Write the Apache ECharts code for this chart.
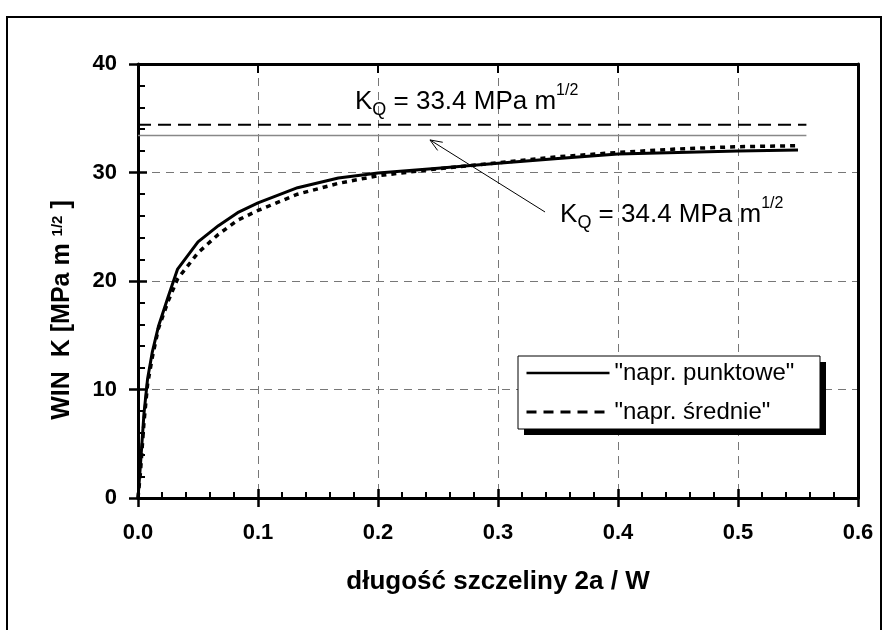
<!DOCTYPE html>
<html>
<head>
<meta charset="utf-8">
<script src="https://cdn.jsdelivr.net/npm/echarts@6/dist/echarts.min.js"></script>
<style>
  html, body { margin: 0; padding: 0; background: #fff; }
  #chart { width: 895px; height: 630px; }
</style>
</head>
<body>
<div id="chart"></div>
<script>
// ---- data ----
const crackLength = [0, 0.002, 0.005, 0.008, 0.012, 0.017, 0.025, 0.033, 0.05, 0.067, 0.083, 0.1, 0.133, 0.167, 0.2, 0.25, 0.3, 0.35, 0.4, 0.45, 0.5, 0.55];
const kPointStress = [0, 3.0, 7.8, 11.0, 13.5, 15.8, 18.5, 21.1, 23.6, 25.1, 26.3, 27.2, 28.6, 29.5, 29.95, 30.4, 30.85, 31.3, 31.7, 31.85, 31.98, 32.07];
const kMeanStress = [0, 2.3, 7.0, 10.5, 13.0, 15.6, 18.1, 20.2, 22.6, 24.3, 25.6, 26.5, 28.0, 29.0, 29.7, 30.35, 30.9, 31.45, 31.85, 32.17, 32.38, 32.47];
const seriesNames = ['"napr. punktowe"', '"napr. średnie"'];
const kqLineX = [0, 0.557];
const kqHigh = 34.4;
const kqLow = 33.4;
const xTicks = [0, 0.1, 0.2, 0.3, 0.4, 0.5, 0.6];
const yTicks = [0, 10, 20, 30, 40];
const xTitle = 'długość szczeliny 2a / W';
// annotation anchors (data coordinates)
const note1Pos = [0.1808, 36.5];
const note2Pos = [0.3517, 26.1];
const arrowFrom = [0.3392, 26.36];
const arrowTo = [0.2433, 33.0];

const FONT = 'Liberation Sans, Arial, sans-serif';
const chart = echarts.init(document.getElementById('chart'), null, { renderer: 'canvas' });

const gridRect = { left: 138, right: 37, top: 64, bottom: 132 };
const xBase = { type: 'value', min: xTicks[0], max: xTicks[xTicks.length - 1], interval: 0.1 };
const yBase = { type: 'value', min: yTicks[0], max: yTicks[yTicks.length - 1], interval: 10 };
const gridLine = { show: true, lineStyle: { color: '#777', type: [8, 6], width: 1 } };

const option = {
  animation: false,
  backgroundColor: '#fff',
  grid: [Object.assign({}, gridRect), Object.assign({}, gridRect)],
  xAxis: [
    Object.assign({}, xBase, {
      gridIndex: 0, position: 'bottom',
      axisLine: { show: true, onZero: false, lineStyle: { color: '#000', width: 3 } },
      axisTick: { show: true, inside: false, length: 9, lineStyle: { color: '#000', width: 2.5 } },
      splitLine: gridLine,
      axisLabel: { color: '#000', fontFamily: FONT, fontSize: 22, fontWeight: 'bold', margin: 24,
        formatter: v => v.toFixed(1) },
      name: xTitle, nameLocation: 'middle', nameGap: 71,
      nameTextStyle: { color: '#000', fontFamily: FONT, fontSize: 26, fontWeight: 'bold' }
    }),
    Object.assign({}, xBase, {
      gridIndex: 1, position: 'bottom',
      axisLine: { show: false, onZero: false },
      axisTick: { show: true, inside: true, length: 9, lineStyle: { color: '#000', width: 2.5 } },
      minorTick: { show: true, splitNumber: 5, length: 6, lineStyle: { color: '#000', width: 2 } },
      splitLine: { show: false }, axisLabel: { show: false }
    }),
    Object.assign({}, xBase, {
      gridIndex: 1, position: 'top',
      axisLine: { show: true, onZero: false, lineStyle: { color: '#000', width: 3 } },
      axisTick: { show: true, inside: true, length: 9, lineStyle: { color: '#000', width: 2 } },
      splitLine: { show: false }, axisLabel: { show: false }
    })
  ],
  yAxis: [
    Object.assign({}, yBase, {
      gridIndex: 0, position: 'left',
      axisLine: { show: true, onZero: false, lineStyle: { color: '#000', width: 3 } },
      axisTick: { show: true, inside: false, length: 9, lineStyle: { color: '#000', width: 2.5 } },
      splitLine: gridLine,
      axisLabel: { color: '#000', fontFamily: FONT, fontSize: 22, fontWeight: 'bold', margin: 21 }
    }),
    Object.assign({}, yBase, {
      gridIndex: 1, position: 'left',
      axisLine: { show: false, onZero: false },
      axisTick: { show: true, inside: true, length: 9, lineStyle: { color: '#000', width: 2.5 } },
      minorTick: { show: true, splitNumber: 5, length: 7, lineStyle: { color: '#000', width: 2 } },
      splitLine: { show: false }, axisLabel: { show: false }
    }),
    Object.assign({}, yBase, {
      gridIndex: 1, position: 'right',
      axisLine: { show: true, onZero: false, lineStyle: { color: '#000', width: 3 } },
      axisTick: { show: false }, splitLine: { show: false }, axisLabel: { show: false }
    })
  ],
  legend: {
    orient: 'vertical', left: 525, top: 359, padding: 0, z: 20,
    itemWidth: 83, itemHeight: 14, itemGap: 11,
    itemStyle: { opacity: 0 },
    textStyle: { color: '#000', fontFamily: FONT, fontSize: 24, lineHeight: 28 },
    data: [
      { name: seriesNames[0], itemStyle: { opacity: 0 }, lineStyle: { width: 2.5 } },
      { name: seriesNames[1], itemStyle: { opacity: 0 }, lineStyle: { type: [10, 7], width: 3 } }
    ]
  },
  series: [
    {
      name: seriesNames[0], type: 'line', xAxisIndex: 0, yAxisIndex: 0,
      symbol: 'none', z: 6,
      data: crackLength.map((x, i) => [x, kPointStress[i]]),
      lineStyle: { color: '#000', width: 3 }, itemStyle: { color: '#000' }
    },
    {
      name: seriesNames[1], type: 'line', xAxisIndex: 0, yAxisIndex: 0,
      symbol: 'none', z: 5,
      data: crackLength.map((x, i) => [x, kMeanStress[i]]),
      lineStyle: { color: '#000', width: 3.5, type: [5, 5] }, itemStyle: { color: '#000' }
    },
    {
      name: 'KQ high', type: 'line', xAxisIndex: 0, yAxisIndex: 0, symbol: 'none', z: 4,
      data: kqLineX.map(x => [x, kqHigh]),
      lineStyle: { color: '#000', width: 2, type: [13, 7] }
    },
    {
      name: 'KQ low', type: 'line', xAxisIndex: 0, yAxisIndex: 0, symbol: 'none', z: 4,
      data: kqLineX.map(x => [x, kqLow]),
      lineStyle: { color: '#888', width: 1.5 }
    }
  ]
};
chart.setOption(option);

// ---- annotations (positioned through the chart's own scales) ----
const toPx = p => chart.convertToPixel({ gridIndex: 0 }, p);
const p1 = toPx(note1Pos), p2 = toPx(note2Pos);
const a0 = toPx(arrowFrom), a1 = toPx(arrowTo);
const ang = Math.atan2(a0[1] - a1[1], a0[0] - a1[0]);
const headLen = 13, headAng = 0.38;
const h1 = [a1[0] + headLen * Math.cos(ang + headAng), a1[1] + headLen * Math.sin(ang + headAng)];
const h2 = [a1[0] + headLen * Math.cos(ang - headAng), a1[1] + headLen * Math.sin(ang - headAng)];

const kqRich = {
  a: { fontFamily: FONT, fontSize: 26, color: '#000' },
  s: { fontFamily: FONT, fontSize: 18, color: '#000', padding: [16, 0, 0, 0] },
  p: { fontFamily: FONT, fontSize: 16, color: '#000', padding: [0, 0, 22, 0] }
};

chart.setOption({
  graphic: [
    { type: 'rect', z: 1, silent: true,
      shape: { x: 7, y: 17, width: 874, height: 700 },
      style: { fill: 'none', stroke: '#000', lineWidth: 2 } },
    { type: 'rect', z: 10, silent: true,
      shape: { x: 524, y: 362, width: 302, height: 73 },
      style: { fill: '#000' } },
    { type: 'rect', z: 11, silent: true,
      shape: { x: 518, y: 356, width: 302, height: 73 },
      style: { fill: '#fff', stroke: '#000', lineWidth: 1 } },
    { type: 'text', z: 30, silent: true, x: p1[0], y: p1[1],
      style: { text: '{a|K}{s|Q}{a| = 33.4 MPa m}{p|1/2}', rich: kqRich,
        textAlign: 'left', textVerticalAlign: 'middle' } },
    { type: 'text', z: 30, silent: true, x: p2[0], y: p2[1],
      style: { text: '{a|K}{s|Q}{a| = 34.4 MPa m}{p|1/2}', rich: kqRich,
        textAlign: 'left', textVerticalAlign: 'middle' } },
    { type: 'polyline', z: 30, silent: true,
      shape: { points: [a0, a1] }, style: { stroke: '#000', lineWidth: 1, fill: null } },
    { type: 'polyline', z: 30, silent: true,
      shape: { points: [h1, a1, h2] }, style: { stroke: '#000', lineWidth: 1, fill: null } },
    { type: 'text', z: 30, silent: true, x: 62, y: 310, rotation: Math.PI / 2,
      style: {
        text: '{a|WIN  K [MPa m }{p|1/2}{a| ]}',
        rich: {
          a: { fontFamily: FONT, fontSize: 25, fontWeight: 'bold', color: '#000' },
          p: { fontFamily: FONT, fontSize: 15, fontWeight: 'bold', color: '#000', padding: [0, 0, 8, 0] }
        },
        textAlign: 'center', textVerticalAlign: 'middle'
      } }
  ]
});
</script>
</body>
</html>
